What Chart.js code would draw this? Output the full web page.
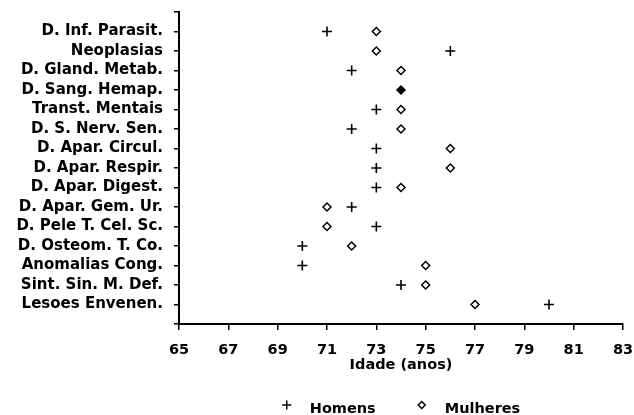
<!DOCTYPE html>
<html><head><meta charset="utf-8">
<script src="https://cdn.jsdelivr.net/npm/chart.js@4"></script>
<style>html,body{margin:0;padding:0;background:#fff}#wrap{width:634px;height:415px}</style>
</head><body><div id="wrap"><canvas id="c" width="634" height="415"></canvas></div>
<script>
const categories = ['D. Inf. Parasit.', 'Neoplasias', 'D. Gland. Metab.', 'D. Sang. Hemap.', 'Transt. Mentais', 'D. S. Nerv. Sen.', 'D. Apar. Circul.', 'D. Apar. Respir.', 'D. Apar. Digest.', 'D. Apar. Gem. Ur.', 'D. Pele T. Cel. Sc.', 'D. Osteom. T. Co.', 'Anomalias Cong.', 'Sint. Sin. M. Def.', 'Lesoes Envenen.'];
const homens   = [71, 76, 72, 74, 73, 72, 73, 73, 73, 72, 73, 70, 70, 74, 80];
const mulheres = [73, 73, 74, 74, 74, 74, 76, 76, 74, 71, 71, 72, 75, 75, 77];
const xMin = 65, xMax = 83, xStep = 2;
const xTitle = 'Idade (anos)';
const seriesNames = ['Homens', 'Mulheres'];

const FONT = 'DejaVu Sans';
const same = i => homens[i] === mulheres[i];

const legendPlugin = {
  id: 'customLegend',
  afterDraw(chart) {
    const ctx = chart.ctx;
    const area = chart.chartArea;
    ctx.save();
    ctx.font = 'bold 14.5px "' + FONT + '"';
    ctx.textBaseline = 'alphabetic';
    ctx.textAlign = 'left';
    const items = chart.data.datasets.map(d => ({label: d.label, style: d.pointStyle, r: d.legendRadius, w: ctx.measureText(d.label).width}));
    const toText = 23, gap = 46;
    let total = 5;
    items.forEach((it, k) => { total += toText + it.w + (k < items.length - 1 ? gap : 0); });
    let x = (area.left + area.right) / 2 - total / 2 + 5;
    const yMark = chart.height - 10, yText = chart.height - 2;
    items.forEach(it => {
      ctx.strokeStyle = '#000';
      ctx.fillStyle = '#fff';
      ctx.lineWidth = 1.5;
      Chart.helpers.drawPoint(ctx, {pointStyle: it.style, radius: it.r, borderWidth: 1.5}, x, yMark);
      ctx.fillStyle = '#000';
      ctx.fillText(it.label, x + toText, yText);
      x += toText + it.w + gap;
    });
    ctx.restore();
  }
};

new Chart(document.getElementById('c'), {
  type: 'scatter',
  data: {
    datasets: [
      {
        label: seriesNames[0],
        data: homens.map((v, i) => ({x: v, y: i})),
        pointStyle: 'cross',
        legendRadius: 4.5,
        pointRadius: c => same(c.dataIndex) ? 0 : 5,
        pointBorderWidth: 1.6,
        borderColor: '#000',
        backgroundColor: '#000',
        showLine: false
      },
      {
        label: seriesNames[1],
        data: mulheres.map((v, i) => ({x: v, y: i})),
        pointStyle: 'rectRot',
        legendRadius: 3.5,
        pointRadius: 4,
        pointBorderWidth: 1.5,
        borderColor: '#000',
        pointBackgroundColor: c => same(c.dataIndex) ? '#000' : '#fff',
        showLine: false
      }
    ]
  },
  options: {
    responsive: false,
    animation: false,
    events: [],
    devicePixelRatio: 1,
    layout: {padding: {top: 12, right: 11, bottom: 41, left: 0}},
    plugins: {legend: {display: false}, tooltip: {enabled: false}},
    scales: {
      x: {
        type: 'linear', min: xMin, max: xMax,
        ticks: {stepSize: xStep, autoSkip: false, maxRotation: 0, color: '#000', padding: 12,
          font: {family: FONT, weight: 'bold', size: 14.5}},
        grid: {drawOnChartArea: false, drawTicks: true, tickLength: 6, color: '#000', lineWidth: 1.5},
        border: {display: true, color: '#000', width: 2},
        title: {display: true, text: xTitle, color: '#000', padding: {top: 0, bottom: 2},
          font: {family: FONT, weight: 'bold', size: 14.5, lineHeight: 1}},
        afterFit(s) { s.height = 50; s.paddingLeft = 0; s.paddingRight = 0; }
      },
      y: {
        type: 'linear', reverse: true, min: -1, max: categories.length,
        ticks: {stepSize: 1, autoSkip: false, color: '#000', padding: 11,
          font: {family: FONT, weight: 'bold', size: 15},
          callback: v => categories[v] ?? ''},
        grid: {drawOnChartArea: false, drawTicks: true, tickLength: 5, color: '#000', lineWidth: 1.5},
        border: {display: true, color: '#000', width: 2},
        afterFit(s) { s.width = 179; s.paddingTop = 0; s.paddingBottom = 0; }
      }
    }
  },
  plugins: [legendPlugin]
});
</script></body></html>
